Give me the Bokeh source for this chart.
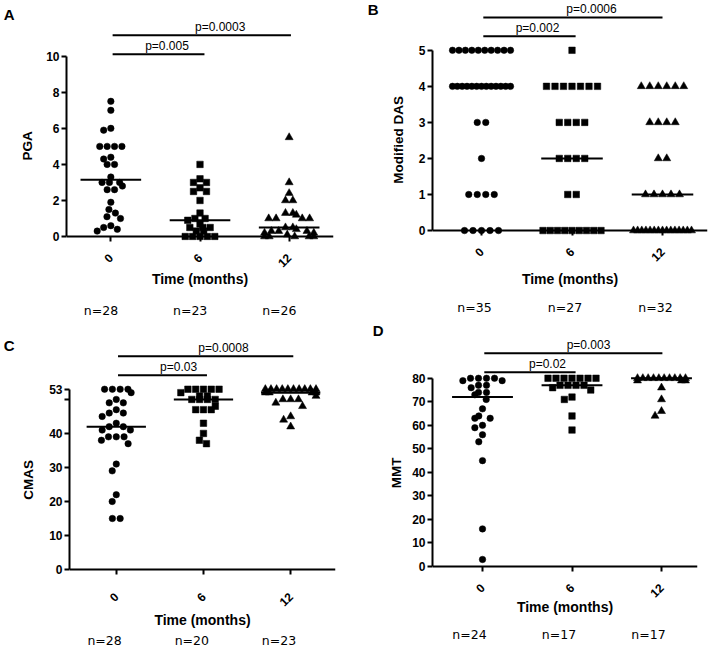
import math
from collections import defaultdict

from bokeh.plotting import figure
from bokeh.models import Range1d, FixedTicker, LinearAxis, Span
from bokeh.layouts import row, column
from bokeh.embed import file_html
from bokeh.resources import INLINE
from bokeh.core.properties import value

# ---------------- data ----------------
time_categories = ["0", "6", "12"]
x_title = "Time (months)"

pga_0 = [7.5, 7.0, 6.0, 5.9, 5.0, 5.0, 5.0, 5.0, 4.4, 4.3, 4.0, 4.0, 3.3, 3.0,
         3.0, 3.0, 2.8, 2.6, 2.6, 1.9, 1.5, 1.3, 1.1, 1.0, 0.6, 0.5, 0.4, 0.3]
pga_6 = [4.0, 3.2, 3.0, 3.0, 2.7, 2.5, 2.5, 2.0, 1.3, 1.0, 1.0, 0.9, 0.7, 0.5,
         0.5, 0.5, 0.3, 0.3, 0.0, 0.0, 0.0, 0.0, 0.0]
pga_12 = [5.5, 3.0, 2.4, 2.0, 2.0, 1.3, 1.3, 1.2, 1.0, 1.0, 1.0, 1.0, 0.5, 0.5,
          0.4, 0.3, 0.3, 0.3, 0.2, 0.2, 0.1, 0.0, 0.0, 0.0, 0.0, 0.0]
pga_medians = [3.15, 0.9, 0.5]
pga_ticks = [0, 2, 4, 6, 8, 10]
pga_pvalues = ["p=0.005", "p=0.0003"]

das_0 = [5, 5, 5, 5, 5, 5, 5, 5, 5, 5, 4, 4, 4, 4, 4, 4, 4, 4, 4, 4, 4, 4, 4,
         3, 3, 2, 1, 1, 1, 1, 0, 0, 0, 0, 0]
das_6 = [5, 4, 4, 4, 4, 4, 4, 4, 3, 3, 3, 3, 2, 2, 2, 2, 1, 1,
         0, 0, 0, 0, 0, 0, 0, 0, 0]
das_12 = [4, 4, 4, 4, 4, 4, 3, 3, 3, 3, 2, 2, 1, 1, 1, 1, 1,
          0, 0, 0, 0, 0, 0, 0, 0, 0, 0, 0, 0, 0, 0, 0]
das_medians = [4, 2, 1]
das_ticks = [0, 1, 2, 3, 4, 5]
das_pvalues = ["p=0.002", "p=0.0006"]

cmas_0 = [53, 53, 53, 53, 52, 50, 49, 49, 47, 46, 46, 45, 43, 42, 42, 41, 41,
          39, 39, 39, 38, 37, 31, 29, 22, 20, 15, 15]
cmas_6 = [53, 53, 53, 53, 53, 52, 51, 51, 50, 50, 50, 50, 48, 47, 47, 47, 43,
          40, 38, 37]
cmas_12 = [53, 53, 53, 53, 53, 53, 53, 53, 53, 53, 52, 52, 52, 52, 51, 50, 50,
           50, 49, 48, 45, 44, 42]
cmas_medians = [42, 50, 52]
cmas_ticks = [0, 10, 20, 30, 40, 50, 53]
cmas_tick_labels = {50: ""}
cmas_pvalues = ["p=0.03", "p=0.0008"]

mmt_0 = [80, 80, 80, 80, 79, 79, 77, 77, 76, 74, 74, 73, 71, 67, 64, 63, 63,
         60, 59, 56, 53, 45, 16, 3]
mmt_6 = [80, 80, 80, 80, 80, 80, 80, 77, 77, 77, 77, 76, 75, 72, 71, 64, 58]
mmt_12 = [80, 80, 80, 80, 80, 80, 80, 80, 80, 80, 79, 79, 79, 76, 71, 66, 64]
mmt_medians = [72, 77, 80]
mmt_ticks = [0, 10, 20, 30, 40, 50, 60, 70, 80]
mmt_pvalues = ["p=0.02", "p=0.003"]

# ---------------- layout (reference pixel geometry) ----------------
FONT = "Liberation Sans"
MARKERS = ["circle", "square", "triangle"]
MSIZE = {"circle": 6.5, "square": 6.5, "triangle": 8}
MED_HALF = 0.34

panels = [
    dict(letter="A", ylabel="PGA", groups=[pga_0, pga_6, pga_12], medians=pga_medians,
         ticks=pga_ticks, tick_labels={}, ymax=10, pvals=pga_pvalues,
         origin=(0, 0), size=(354, 320), frame_l=62, frame_r=333, frame_b=241,
         y0=237, ytop=56, c0=107, c2=288, letter_y=14.5, ylabel_y=146,
         title_so=8, letter_so=3,
         pline_y=(54, 35), ptext_x=(164, 218), pline_end=(1.05, 2.02),
         tick_so=14, time_so=-3, n_so=12, n_off=-10, c=7.5, W=25),
    dict(letter="B", ylabel="Modified DAS", groups=[das_0, das_6, das_12], medians=das_medians,
         ticks=das_ticks, tick_labels={}, ymax=5, pvals=das_pvalues,
         origin=(354, 0), size=(355, 320), frame_l=432, frame_r=707, frame_b=241,
         y0=231, ytop=50, c0=481, c2=662, letter_y=8, ylabel_y=140,
         title_so=9, letter_so=10,
         pline_y=(36, 17), ptext_x=(537, 591), pline_end=(1.04, 2.0),
         tick_so=9, time_so=3, n_so=9, n_off=-7, c=8.5, W=29),
    dict(letter="C", ylabel="CMAS", groups=[cmas_0, cmas_6, cmas_12], medians=cmas_medians,
         ticks=cmas_ticks, tick_labels=cmas_tick_labels, ymax=53, pvals=cmas_pvalues,
         origin=(0, 320), size=(354, 330), frame_l=62, frame_r=335, frame_b=574,
         y0=570, ytop=389, c0=110, c2=289, letter_y=345, ylabel_y=480,
         title_so=10, letter_so=4,
         pline_y=(375, 356), ptext_x=(174, 220), pline_end=(1.04, 2.03),
         tick_so=20, time_so=-1, n_so=1, n_off=-12, c=8, W=26),
    dict(letter="D", ylabel="MMT", groups=[mmt_0, mmt_6, mmt_12], medians=mmt_medians,
         ticks=mmt_ticks, tick_labels={}, ymax=80, pvals=mmt_pvalues,
         origin=(354, 320), size=(355, 330), frame_l=432, frame_r=697, frame_b=574,
         y0=567, ytop=378, c0=482, c2=661, letter_y=327, ylabel_y=473,
         title_so=5, letter_so=3,
         pline_y=(372, 353), ptext_x=(547, 588), pline_end=(1.04, 2.01),
         tick_so=12, time_so=-5, n_so=8, n_off=-13, c=8, W=24),
]


def swarm(vals, ky, c, W):
    """Beeswarm offsets (pixels) so markers do not overlap; equal-value rows are
    centred and capped at +-W."""
    n = len(vals)
    xs = [0.0] * n
    placed = []
    order = sorted(range(n), key=lambda k: -vals[k])
    for k in order:
        y = vals[k] * ky
        blocked = []
        for xj, yj in placed:
            d = abs(y - yj)
            if d < c:
                h = math.sqrt(c * c - d * d)
                blocked.append((xj - h, xj + h))
        cands = [0.0] + [b for iv in blocked for b in iv]
        cands.sort(key=lambda x: (round(abs(x), 6), x))
        chosen = 0.0
        for x in cands:
            if all(not (lo + 1e-6 < x < hi - 1e-6) for lo, hi in blocked):
                chosen = x
                break
        xs[k] = chosen
        placed.append((chosen, y))
    rows = defaultdict(list)
    for k, v in enumerate(vals):
        rows[v].append(k)
    for idx in rows.values():
        if len(idx) > 1:
            mid = (max(xs[k] for k in idx) + min(xs[k] for k in idx)) / 2.0
            for k in idx:
                xs[k] -= mid
        m = max(abs(xs[k]) for k in idx)
        if m > W:
            for k in idx:
                xs[k] *= W / m
    return [max(-W - 2, min(W + 2, x)) for x in xs]


def text_axis(ticks, labels, so, font, size, style, orient=None):
    ax = LinearAxis(ticker=FixedTicker(ticks=ticks),
                    major_label_overrides=dict(zip(ticks, labels)),
                    axis_line_color=None, major_tick_line_color=None,
                    minor_tick_line_color=None, major_tick_in=0, major_tick_out=0,
                    minor_tick_in=0, minor_tick_out=0, major_label_standoff=so,
                    major_label_text_font=font, major_label_text_font_size=size,
                    major_label_text_font_style=style, major_label_text_color="black")
    if orient is not None:
        ax.major_label_orientation = orient
    return ax


def build(sp):
    ox, oy = sp["origin"]
    fw, fh = sp["size"]
    Lx = lambda x: x - ox
    Ty = lambda y: y - oy
    fl = round(Lx(sp["frame_l"]))
    fr = round(Lx(sp["frame_r"]))
    y0 = Ty(sp["y0"])
    ky = (y0 - Ty(sp["ytop"])) / sp["ymax"]
    ft = 1
    fb = round(Ty(sp["frame_b"]))
    gap = round(fb - y0)
    c0 = Lx(sp["c0"])
    kx = (Lx(sp["c2"]) - c0) / 2.0
    dx = lambda px: (px - c0) / kx
    dy = lambda py: (y0 - py) / ky

    p = figure(width=fw, height=fh,
               x_range=Range1d(dx(fl), dx(fr)), y_range=Range1d(dy(fb), dy(ft)),
               output_backend="svg", toolbar_location=None,
               min_border_left=fl, min_border_right=fw - fr,
               min_border_top=ft, min_border_bottom=fh - fb)
    p.outline_line_color = None
    p.xgrid.visible = False
    p.ygrid.visible = False
    p.background_fill_color = "white"
    p.border_fill_color = "white"

    # points
    for i, vals in enumerate(sp["groups"]):
        offs = swarm(vals, ky, sp["c"], sp["W"])
        xs = [i + o / kx for o in offs]
        mk = MARKERS[i]
        p.scatter(xs, vals, marker=mk, size=MSIZE[mk], fill_color="black",
                  line_color="black", line_width=0.5)

    # medians
    idx = list(range(len(sp["medians"])))
    p.segment(x0=[i - MED_HALF for i in idx], x1=[i + MED_HALF for i in idx],
              y0=sp["medians"], y1=sp["medians"], line_color="black", line_width=2)

    # x axis line at zero
    p.add_layout(Span(location=0, dimension="width", line_color="black", line_width=2))

    # comparison brackets
    ends = sp["pline_end"]
    pys = [dy(Ty(v)) for v in sp["pline_y"]]
    p.segment(x0=[0.02, 0.02], x1=list(ends), y0=pys, y1=pys,
              line_color="black", line_width=2)
    p.text(x=[dx(Lx(v)) for v in sp["ptext_x"]], y=pys, text=sp["pvals"],
           text_font=value(FONT), text_font_size="12px", text_color="black",
           text_align="center", text_baseline="bottom", y_offset=-1)

    # y axis
    ya = p.yaxis[0]
    ya.ticker = FixedTicker(ticks=sp["ticks"])
    ya.bounds = (0, sp["ymax"])
    if sp["tick_labels"]:
        ya.major_label_overrides = sp["tick_labels"]
    ya.axis_line_width = 2
    ya.major_tick_line_width = 2
    ya.major_tick_out = 5
    ya.major_tick_in = 0
    ya.minor_tick_line_color = None
    ya.minor_tick_out = 0
    ya.minor_tick_in = 0
    ya.major_label_standoff = 2
    ya.major_label_text_font = FONT
    ya.major_label_text_font_style = "bold"
    ya.major_label_text_font_size = "12px"
    ya.major_label_text_color = "black"

    # y title and panel letter (outer left axes)
    p.add_layout(text_axis([round(dy(Ty(sp["ylabel_y"])), 4)], [sp["ylabel"]],
                           sp["title_so"], FONT, "13.5px", "bold", "parallel"), "left")
    p.add_layout(text_axis([round(dy(Ty(sp["letter_y"])), 4)], [sp["letter"]],
                           sp["letter_so"], FONT, "15px", "bold"), "left")

    # x axis (categories); ticks hang 5px below the zero line
    xa = p.xaxis[0]
    xa.ticker = FixedTicker(ticks=idx)
    xa.major_label_overrides = {i: t for i, t in enumerate(time_categories)}
    xa.axis_line_color = None
    xa.major_tick_in = gap
    xa.major_tick_out = 5 - gap
    xa.major_tick_line_width = 2
    xa.minor_tick_line_color = None
    xa.minor_tick_out = 0
    xa.minor_tick_in = 0
    xa.major_label_orientation = math.pi / 4
    xa.major_label_standoff = sp["tick_so"]
    xa.major_label_text_font = FONT
    xa.major_label_text_font_style = "bold"
    xa.major_label_text_font_size = "12px"
    xa.major_label_text_color = "black"
    xa.axis_label = x_title
    xa.axis_label_standoff = sp["time_so"]
    xa.axis_label_text_font = FONT
    xa.axis_label_text_font_style = "bold"
    xa.axis_label_text_font_size = "14px"
    xa.axis_label_text_color = "black"

    # group sizes
    nt = [round(i + sp["n_off"] / kx, 4) for i in idx]
    p.add_layout(text_axis(nt, ["n=%d" % len(g) for g in sp["groups"]], sp["n_so"],
                           "DejaVu Sans", "12.5px", "normal"), "below")
    return p


figs = [build(sp) for sp in panels]
layout = column(row(figs[0], figs[1]), row(figs[2], figs[3]))
open("out.html", "w").write(file_html(layout, INLINE))
